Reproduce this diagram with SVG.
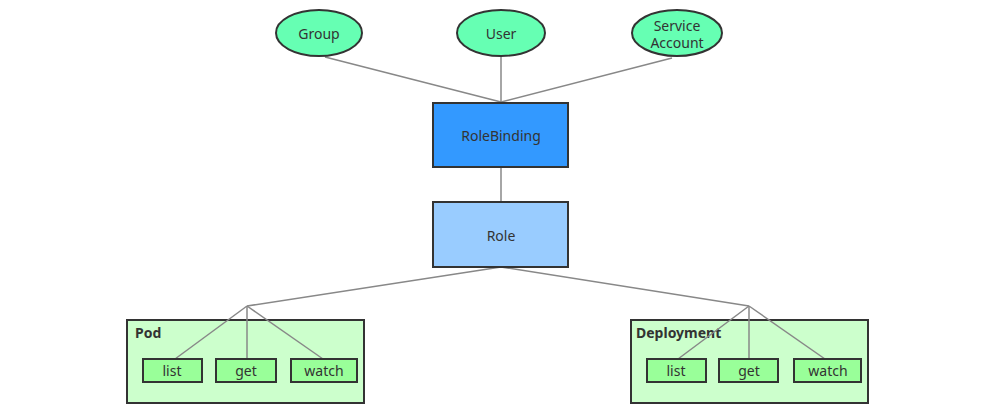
<svg xmlns="http://www.w3.org/2000/svg" width="1000" height="412" viewBox="0 0 1000 412">
<style>
text{font-family:"Noto Sans","Open Sans","Liberation Sans",sans-serif;fill:#333;text-anchor:middle;dominant-baseline:central}
.t{font-size:14px}
.s{font-size:14px}
.b{font-size:14px;font-weight:bold;text-anchor:start}
.e{fill:#66FFB3;stroke:#333;stroke-width:2}
.r{stroke:#333;stroke-width:2}
.c{fill:#CCFFCC;stroke:#333;stroke-width:2}
.v{fill:#99FF99;stroke:#333;stroke-width:2}
.l{stroke:#888;stroke-width:1.5;fill:none}
</style>
<rect width="1000" height="412" fill="#fff"/>
<g id="pod">
<rect class="c" x="127" y="320" width="237" height="83"/>
<text class="b" x="135" y="332">Pod</text>
</g>
<g id="deployment">
<rect class="c" x="631" y="320" width="237" height="83"/>
<text class="b" x="636" y="332">Deployment</text>
</g>
<g id="connectors">
<line class="l" x1="325" y1="57" x2="501" y2="102"/>
<line class="l" x1="501" y1="57" x2="501" y2="102"/>
<line class="l" x1="672" y1="58" x2="501" y2="102"/>
<line class="l" x1="501" y1="167" x2="501" y2="202"/>
<line class="l" x1="501" y1="267" x2="247" y2="306"/>
<line class="l" x1="501" y1="267" x2="749" y2="306"/>
<line class="l" x1="247" y1="306" x2="175" y2="359"/>
<line class="l" x1="247" y1="306" x2="247" y2="359"/>
<line class="l" x1="247" y1="306" x2="323" y2="359"/>
<line class="l" x1="749" y1="306" x2="678" y2="359"/>
<line class="l" x1="749" y1="306" x2="749" y2="359"/>
<line class="l" x1="749" y1="306" x2="825" y2="359"/>
</g>
<g id="group"><ellipse class="e" cx="319" cy="33" rx="43" ry="23"/><text class="t" x="319" y="33">Group</text></g>
<g id="user"><ellipse class="e" cx="501" cy="33" rx="44" ry="23"/><text class="t" x="501" y="33">User</text></g>
<g id="serviceaccount"><ellipse class="e" cx="677" cy="33" rx="45" ry="23"/><text class="t" x="677" y="25">Service</text><text class="t" x="677" y="42">Account</text></g>
<g id="rolebinding"><rect class="r" x="433" y="103" width="135" height="64" fill="#3399FF"/><text class="t" x="501" y="135">RoleBinding</text></g>
<g id="role"><rect class="r" x="433" y="202" width="135" height="65" fill="#99CCFF"/><text class="t" x="501" y="235">Role</text></g>
<g id="pod-list"><rect class="v" x="143" y="359" width="59" height="23"/><text class="s" x="172" y="370">list</text></g>
<g id="pod-get"><rect class="v" x="216" y="359" width="60" height="23"/><text class="s" x="246" y="370">get</text></g>
<g id="pod-watch"><rect class="v" x="291" y="359" width="66" height="23"/><text class="s" x="324" y="370">watch</text></g>
<g id="dep-list"><rect class="v" x="647" y="359" width="59" height="23"/><text class="s" x="676" y="370">list</text></g>
<g id="dep-get"><rect class="v" x="719" y="359" width="59" height="23"/><text class="s" x="749" y="370">get</text></g>
<g id="dep-watch"><rect class="v" x="794" y="359" width="67" height="23"/><text class="s" x="828" y="370">watch</text></g>
</svg>
